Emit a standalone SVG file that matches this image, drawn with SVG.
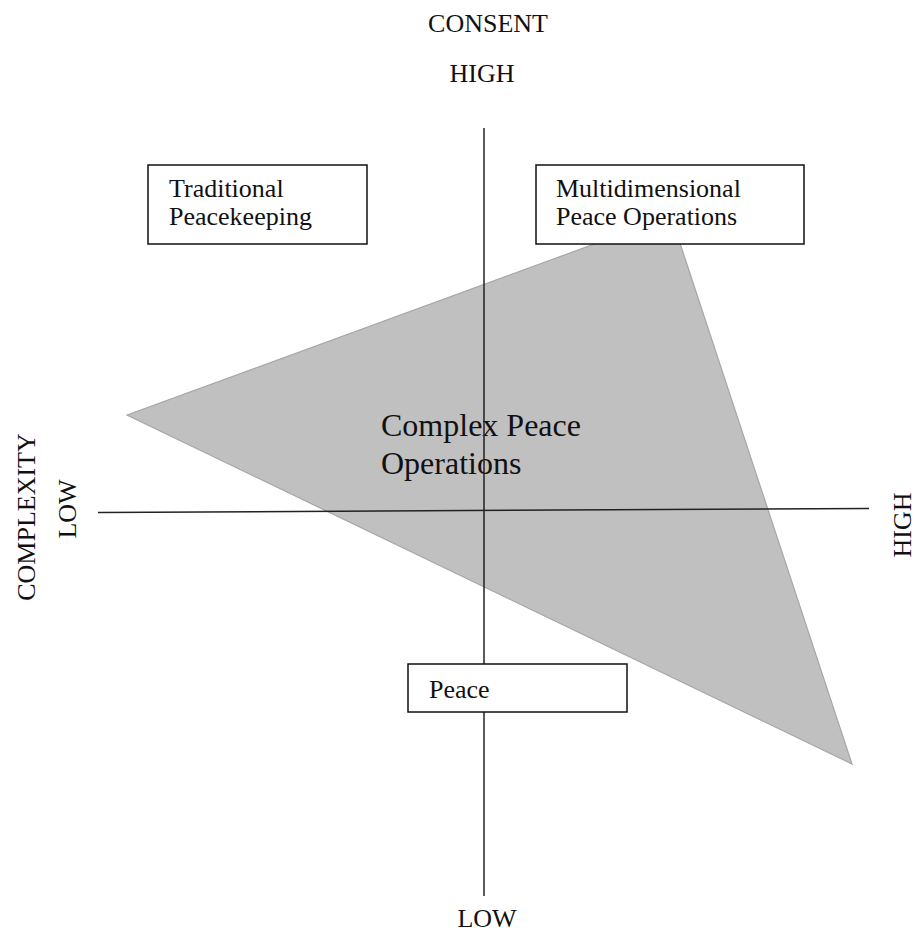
<svg xmlns="http://www.w3.org/2000/svg" width="917" height="932" viewBox="0 0 917 932">
<style>
.t{font-family:"Liberation Serif","Times New Roman",serif;font-size:26px;fill:#111}
.big{font-size:32px}
.box{fill:#fff;stroke:#111;stroke-width:1.5}
.ax{stroke:#222;stroke-width:1.5;fill:none}
</style>
<rect width="917" height="932" fill="#fff"/>
<g id="region">
<polygon points="127,415 671,216 852,764" fill="#c0c0c0" stroke="#a6a6a6" stroke-width="1.2"/>
<text class="t big" x="381" y="436">Complex Peace</text>
<text class="t big" x="381" y="474">Operations</text>
</g>
<g id="connectors">
<line class="ax" x1="484" y1="128" x2="484" y2="896"/>
<line class="ax" x1="98" y1="512.5" x2="869" y2="508.5"/>
</g>
<g id="labels">
<text class="t" x="488" y="32" text-anchor="middle">CONSENT</text>
<text class="t" x="482" y="82" text-anchor="middle">HIGH</text>
<text class="t" x="487" y="927" text-anchor="middle">LOW</text>
<text class="t" transform="translate(35,517) rotate(-90)" text-anchor="middle">COMPLEXITY</text>
<text class="t" transform="translate(76,509) rotate(-90)" text-anchor="middle">LOW</text>
<text class="t" transform="translate(911,525) rotate(-90)" text-anchor="middle">HIGH</text>
</g>
<g id="traditional">
<rect class="box" x="148" y="165" width="219" height="79"/>
<text class="t" x="169" y="197">Traditional</text>
<text class="t" x="169" y="225">Peacekeeping</text>
</g>
<g id="multidimensional">
<rect class="box" x="536" y="165" width="268" height="79"/>
<text class="t" x="556" y="197">Multidimensional</text>
<text class="t" x="556" y="225">Peace Operations</text>
</g>
<g id="peace">
<rect class="box" x="408" y="664" width="219" height="48"/>
<text class="t" x="429" y="698">Peace</text>
</g>
</svg>
